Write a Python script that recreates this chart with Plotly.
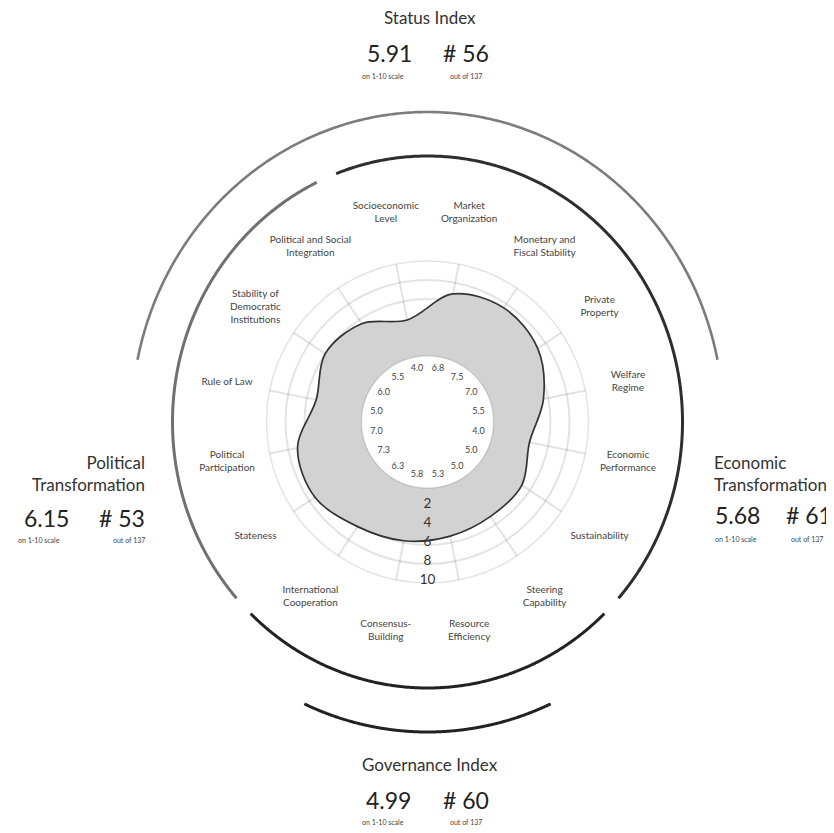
import numpy as np
import plotly.graph_objects as go

# ---------------- data ----------------
categories = [
    "Socioeconomic<br>Level", "Market<br>Organization", "Monetary and<br>Fiscal Stability",
    "Private<br>Property", "Welfare<br>Regime", "Economic<br>Performance", "Sustainability",
    "Steering<br>Capability", "Resource<br>Efficiency", "Consensus-<br>Building",
    "International<br>Cooperation", "Stateness", "Political<br>Participation", "Rule of Law",
    "Stability of<br>Democratic<br>Institutions", "Political and Social<br>Integration",
]
scores = [4.0, 6.8, 7.5, 7.0, 5.5, 4.0, 5.0, 5.0, 5.3, 5.8, 6.3, 7.3, 7.0, 5.0, 6.0, 5.5]
ring_ticks = [2, 4, 6, 8, 10]

index_titles = ["Status Index", "Political<br>Transformation", "Economic<br>Transformation", "Governance Index"]
index_scores = [5.91, 6.15, 5.68, 4.99]
index_ranks = [56, 53, 61, 60]
total_countries = 137

# group sizes (economic, governance, political) for the inner arcs
group_sizes = [7, 4, 5]

# ---------------- geometry / style ----------------
OFF = 8                          # browser body margin
W, H = 834 - OFF, 833 - OFF      # figure size so that the page does not overflow
CX, CY = 427.5 - OFF, 422 - OFF  # chart centre in figure pixels
HOLE_PX, OUTER_PX = 66, 161      # hole edge / value 10
R2 = 330                         # overlay polar radius in px
FONT = "Lato"

N = len(categories)
step = 360.0 / N
theta = [(-step / 2 + i * step) % 360 for i in range(N)]


def dom(radius):
    x = [(CX - radius) / W, (CX + radius) / W]
    yb = H - CY
    y = [(yb - radius) / H, (yb + radius) / H]
    return dict(x=x, y=y)


def ell(th_deg, a, b):
    """radius of an ellipse (a horizontal, b vertical) at clockwise-from-top angle"""
    t = np.radians(np.asarray(th_deg, dtype=float))
    return 1.0 / np.sqrt((np.sin(t) / a) ** 2 + (np.cos(t) / b) ** 2)


fig = go.Figure()

# filled score shape
fig.add_trace(go.Scatterpolar(
    r=scores + [scores[0]], theta=theta + [theta[0]],
    mode="lines", line=dict(shape="spline", smoothing=1.0, color="#333333", width=1.7),
    fill="toself", fillcolor="#d2d2d2", subplot="polar", hoverinfo="skip",
))

# ring labels 2..10 at the bottom
fig.add_trace(go.Scatterpolar(
    r=[t - 0.25 for t in ring_ticks], theta=[180] * len(ring_ticks), mode="text",
    text=[str(t) for t in ring_ticks], textfont=dict(family=FONT, size=13.5, color="#333333"),
    subplot="polar", hoverinfo="skip",
))

# value labels inside the hole (overlay polar, pixel units)
fig.add_trace(go.Scatterpolar(
    r=ell(theta, 52, 54), theta=theta, mode="text",
    text=[f"{v:.1f}" for v in scores], textfont=dict(family=FONT, size=9, color="#444444"),
    subplot="polar2", hoverinfo="skip",
))

# category labels
fig.add_trace(go.Scatterpolar(
    r=ell(theta, 204, 214), theta=theta, mode="text", text=categories,
    textfont=dict(family=FONT, size=10, color="#444444"),
    subplot="polar2", hoverinfo="skip",
))

# inner arcs: economic, governance, political
gap = 2.3
bounds = [-step]
acc = -step
for g in group_sizes:
    acc += g * step
    bounds.append(acc)
inner_styles = [("#2e2e2e", 3.0), ("#222222", 3.0), ("#707070", 3.0)]
for k, (c, w) in enumerate(inner_styles):
    th = np.linspace(bounds[k] + gap, bounds[k + 1] - gap, 300)
    fig.add_trace(go.Scatterpolar(r=ell(th, 255, 266), theta=th, mode="lines",
                                  line=dict(color=c, width=w), subplot="polar2", hoverinfo="skip"))

# outer arcs: status (top) and governance (bottom)
for a0, a1, c, w in [(-77.9, 77.9, "#7c7c7c", 2.6), (156.4, 203.6, "#222222", 3.0)]:
    th = np.linspace(a0, a1, 300)
    fig.add_trace(go.Scatterpolar(r=ell(th, 296, 310), theta=th, mode="lines",
                                  line=dict(color=c, width=w), subplot="polar2", hoverinfo="skip"))

# ---------------- index annotations ----------------
anns = []


def ann(text, x, y, size, color="#333333", xanchor="center", align="center"):
    anns.append(dict(text=text, x=(x - OFF) / W, y=1 - (y - OFF) / H, xref="paper", yref="paper",
                     xanchor=xanchor, yanchor="middle", align=align, showarrow=False,
                     borderpad=0, font=dict(family=FONT, size=size, color=color)))


scale_txt = "on 1-10 scale"
rank_txt = f"out of {total_countries}"
BIG = 23

# Status index (top)
ann(index_titles[0], 430, 17.5, 17)
ann(f"{index_scores[0]:.2f}", 389, 52.5, BIG, "#222222")
ann(f"# {index_ranks[0]}", 466, 52.5, BIG, "#222222")
ann(scale_txt, 382.5, 76.5, 7, "#444444")
ann(rank_txt, 466, 76.5, 7, "#444444")

# Political transformation (left)
ann(index_titles[1], 146, 473, 17, xanchor="right", align="right")
ann(f"{index_scores[1]:.2f}", 46.5, 517.5, BIG, "#222222")
ann(f"# {index_ranks[1]}", 146, 517.5, BIG, "#222222", xanchor="right")
ann(scale_txt, 39, 539.5, 7, "#444444")
ann(rank_txt, 146, 539.5, 7, "#444444", xanchor="right")

# Economic transformation (right)
ann(index_titles[2], 713, 473, 17, xanchor="left", align="left")
ann(f"{index_scores[2]:.2f}", 714, 515.5, BIG, "#222222", xanchor="left")
ann(f"# {index_ranks[2]}", 785, 515.5, BIG, "#222222", xanchor="left")
ann(scale_txt, 714, 539, 7, "#444444", xanchor="left")
ann(rank_txt, 790, 539, 7, "#444444", xanchor="left")

# Governance index (bottom)
ann(index_titles[3], 429.5, 764.5, 17)
ann(f"{index_scores[3]:.2f}", 388.5, 799.5, BIG, "#222222")
ann(f"# {index_ranks[3]}", 466, 799.5, BIG, "#222222")
ann(scale_txt, 382.5, 821.5, 7, "#444444")
ann(rank_txt, 466, 821.5, 7, "#444444")

grid = "rgba(0,0,0,0.11)"
fig.update_layout(
    width=W, height=H, margin=dict(l=0, r=0, t=0, b=0),
    paper_bgcolor="white", plot_bgcolor="white", showlegend=False,
    annotations=anns,
    polar=dict(
        domain=dom(OUTER_PX), hole=HOLE_PX / OUTER_PX, bgcolor="rgba(0,0,0,0)",
        radialaxis=dict(range=[0, 10], tickvals=ring_ticks, showticklabels=False, ticks="",
                        showline=False, gridcolor=grid, gridwidth=1.5, layer="above traces"),
        angularaxis=dict(rotation=90, direction="clockwise", tickvals=theta, showticklabels=False,
                         ticks="", gridcolor=grid, gridwidth=1.5, showline=True, linecolor=grid,
                         linewidth=1.5, layer="above traces"),
    ),
    polar2=dict(
        domain=dom(R2), bgcolor="rgba(0,0,0,0)",
        radialaxis=dict(range=[0, R2], visible=False),
        angularaxis=dict(rotation=90, direction="clockwise", visible=False),
    ),
)

fig.write_html("out.html")
